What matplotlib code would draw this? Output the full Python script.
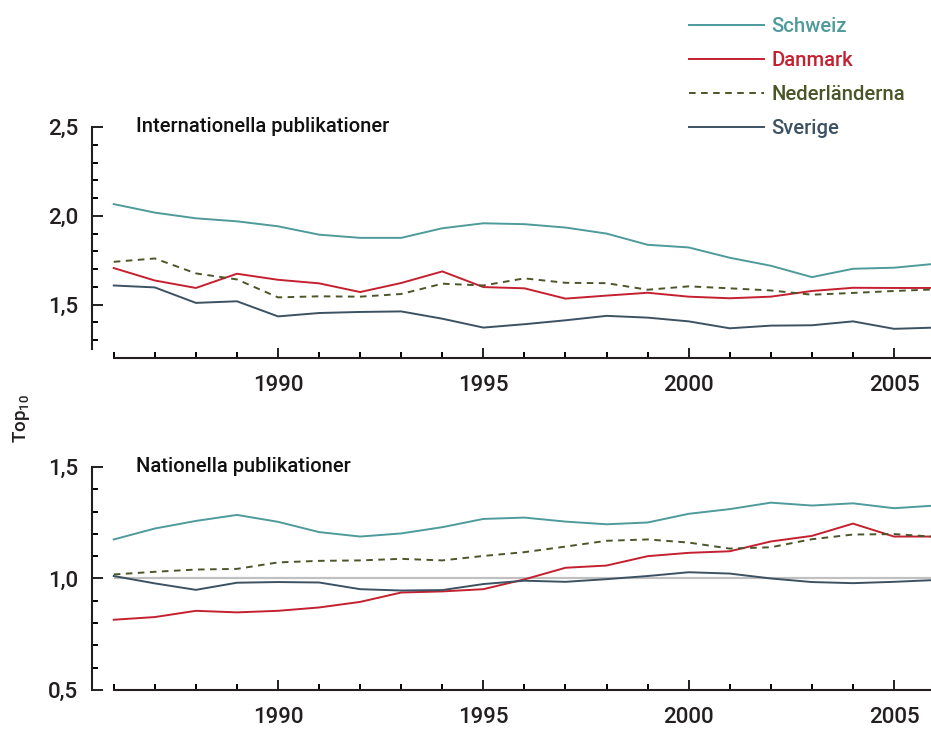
import matplotlib.pyplot as plt
from matplotlib.ticker import MultipleLocator

plt.rcParams['font.family'] = ['Roboto', 'DejaVu Sans']
plt.rcParams['font.weight'] = 'medium'
plt.rcParams['mathtext.default'] = 'regular'

# ===================== Dados =====================
ar = list(range(1986, 2007))

# Internationella publikationer
int_schweiz = [2.066, 2.018, 1.986, 1.969, 1.941, 1.894, 1.876, 1.876, 1.930, 1.958, 1.953,
               1.934, 1.900, 1.837, 1.822, 1.764, 1.719, 1.655, 1.702, 1.708, 1.730]
int_danmark = [1.706, 1.636, 1.594, 1.674, 1.640, 1.620, 1.571, 1.622, 1.687, 1.599, 1.592,
               1.534, 1.551, 1.567, 1.545, 1.536, 1.545, 1.577, 1.595, 1.594, 1.594]
int_nederl = [1.741, 1.760, 1.676, 1.642, 1.541, 1.547, 1.545, 1.560, 1.618, 1.608, 1.648,
              1.623, 1.621, 1.584, 1.603, 1.592, 1.580, 1.556, 1.566, 1.577, 1.586]
int_sverige = [1.608, 1.597, 1.510, 1.519, 1.434, 1.453, 1.459, 1.462, 1.421, 1.371, 1.390,
               1.412, 1.437, 1.427, 1.406, 1.367, 1.382, 1.384, 1.406, 1.364, 1.371]

# Nationella publikationer
nat_schweiz = [1.175, 1.224, 1.258, 1.285, 1.254, 1.208, 1.188, 1.202, 1.230, 1.267, 1.273,
               1.255, 1.243, 1.251, 1.290, 1.311, 1.340, 1.327, 1.337, 1.315, 1.327]
nat_danmark = [0.815, 0.827, 0.855, 0.848, 0.855, 0.870, 0.895, 0.937, 0.942, 0.952, 0.996,
               1.048, 1.058, 1.100, 1.115, 1.122, 1.166, 1.191, 1.246, 1.188, 1.188]
nat_nederl = [1.018, 1.030, 1.040, 1.043, 1.072, 1.079, 1.081, 1.088, 1.081, 1.101, 1.118,
              1.143, 1.169, 1.175, 1.161, 1.134, 1.140, 1.176, 1.197, 1.199, 1.187]
nat_sverige = [1.011, 0.978, 0.949, 0.981, 0.984, 0.982, 0.952, 0.946, 0.948, 0.975, 0.990,
               0.985, 0.997, 1.011, 1.028, 1.022, 1.000, 0.984, 0.979, 0.985, 0.993]

lander = ['Schweiz', 'Danmark', 'Nederländerna', 'Sverige']
farger = ['#4f9a9b', '#c4202f', '#4a5628', '#3c5262']
stilar = ['-', '-', (0, (3.4, 2.8)), '-']

xticks_major = [1990, 1995, 2000, 2005]
yticks_top = [1.5, 2.0, 2.5]
ylabels_top = ['1,5', '2,0', '2,5']
yminor_top = [1.3, 1.4, 1.6, 1.7, 1.8, 1.9, 2.1, 2.2, 2.3, 2.4]
yticks_bot = [0.5, 1.0, 1.5]
ylabels_bot = ['0,5', '1,0', '1,5']
yminor_bot = [0.6, 0.7, 0.8, 0.9, 1.1, 1.2, 1.3, 1.4]

# ===================== Figura =====================
fig = plt.figure(figsize=(9.31, 7.31), dpi=100)
ax1 = fig.add_axes([0.0988, 0.5103, 0.9012, 0.3160])
ax2 = fig.add_axes([0.0988, 0.0561, 0.9012, 0.3051])

paineis = [
    (ax1, [int_schweiz, int_danmark, int_nederl, int_sverige], (1.2, 2.5), (1.25, 2.5),
     yticks_top, ylabels_top, yminor_top, 'Internationella publikationer'),
    (ax2, [nat_schweiz, nat_danmark, nat_nederl, nat_sverige], (0.5, 1.5), (0.5, 1.5),
     yticks_bot, ylabels_bot, yminor_bot, 'Nationella publikationer'),
]

for ax, serier, ylim, ybounds, yt, yl, ym, titel in paineis:
    if ax is ax2:
        # linha de referência em 1,0
        ax.hlines(1.0, ar[0], ar[-1], color='#c0c0c0', lw=1.6, zorder=1)
    for s, namn, c, ls in zip(serier, lander, farger, stilar):
        ax.plot(ar, s, color=c, ls=ls, lw=1.4, label=namn, zorder=3)

    ax.set_xlim(1985.47, 2005.9)
    ax.set_ylim(*ylim)
    for side in ['top', 'right']:
        ax.spines[side].set_visible(False)
    ax.spines['left'].set_bounds(*ybounds)
    ax.spines['bottom'].set_bounds(ar[0], 2005.9)
    for side in ['left', 'bottom']:
        ax.spines[side].set_linewidth(1.5)
        ax.spines[side].set_color('#231f20')

    ax.set_xticks(xticks_major)
    ax.xaxis.set_minor_locator(MultipleLocator(1))
    ax.set_yticks(yt, labels=yl)
    ax.set_yticks(ym, minor=True)
    ax.tick_params(axis='x', which='major', direction='in', length=7.5, width=1.4, pad=12,
                   labelsize=16, colors='#231f20')
    ax.tick_params(axis='x', which='minor', direction='in', length=4, width=1.4)
    ax.tick_params(axis='y', which='major', direction='in', length=8, width=1.4, pad=10,
                   labelsize=16, colors='#231f20')
    ax.tick_params(axis='y', which='minor', direction='in', length=4.3, width=1.4)

    ax.text(0.0524, 1.0, titel, transform=ax.transAxes, fontsize=14.5, va='center',
            ha='left', color='#111111')

fig.text(22 / 931, 1 - 418 / 731, 'Top$_{10}$', rotation=90, fontsize=13.5,
         ha='center', va='center', color='#231f20')

handles, labels = ax1.get_legend_handles_labels()
fig.legend(handles, labels, loc='upper left', bbox_to_anchor=(689 / 931, 1 - 17 / 731),
           frameon=False, fontsize=14.6, handlelength=3.7, handletextpad=0.38,
           labelspacing=0.74, borderpad=0, borderaxespad=0, labelcolor='linecolor')

fig.savefig('out.png', dpi=100)
